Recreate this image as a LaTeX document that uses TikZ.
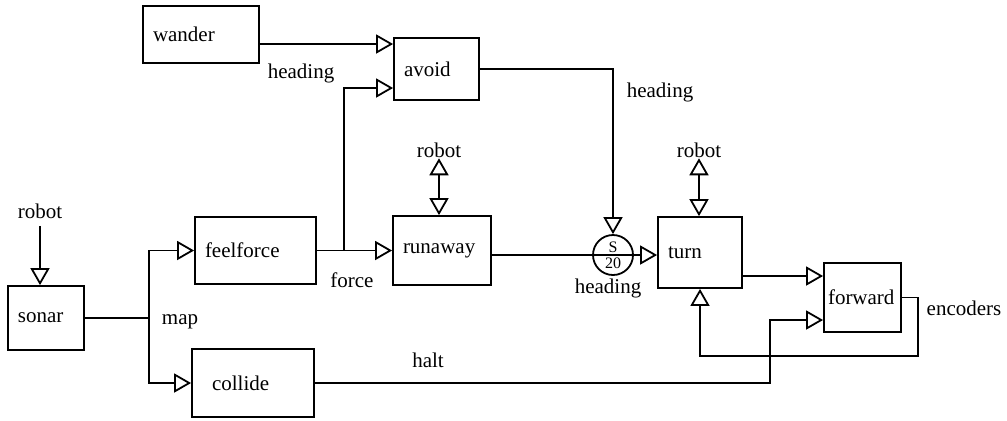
\documentclass[tikz,border=0pt]{standalone}
\usepackage{fontspec}
\setmainfont{Liberation Serif}
\usetikzlibrary{arrows.meta}

\begin{document}
\begin{tikzpicture}[
  x=0.5pt, y=-0.5pt,
  font=\fontsize{10.5}{12}\selectfont,
  line width=0.9pt,
  arr/.style={-{Triangle[open,length=8.5pt,width=9.5pt]}},
  arrboth/.style={{Triangle[open,length=8.5pt,width=9.5pt]}-{Triangle[open,length=8.5pt,width=9.5pt]}},
  box/.style={draw, align=left, inner xsep=5pt, inner ysep=0pt},
  robotlbl/.style={inner sep=0pt}
]
  \useasboundingbox (0,0) rectangle (1007,420);

  % behaviours
  \node[box, text width=48pt, minimum height=28.5pt] (wander) at (201,34.5) {wander};
  \node[box, text width=32.5pt, minimum height=31pt] (avoid) at (436.5,69) {avoid};
  \node[box, text width=50.5pt, minimum height=33.5pt] (feelforce) at (255.5,250.5) {feelforce};
  \node[box, text width=39pt, minimum height=34.5pt] (runaway) at (442,250.5) {runaway};
  \node[box, text width=32pt, minimum height=35.5pt] (turn) at (700,252.5) {turn};
  \node[box, inner xsep=2pt, text width=34.5pt, minimum height=34.5pt] (forward) at (862.5,297.5) {forward};
  \node[box, text width=28pt, minimum height=32pt] (sonar) at (46,318) {sonar};
  \node[box, inner xsep=10pt, text width=41pt, minimum height=34pt] (collide) at (253,383) {collide};

  % suppressor
  \node[draw, circle, minimum size=20pt, inner sep=0pt, align=center,
        font=\fontsize{8}{8}\selectfont] (sup) at (613,255) {S\\20};

  % labels
  \node (robotS) at (40,211) {robot};
  \node[robotlbl] (robotR) at (439,150) {robot};
  \node[robotlbl] (robotT) at (699,150) {robot};
  \node (hdgW) at (301,73) {heading};
  \node (hdgA) at (660,92) {heading};
  \node (hdgS) at (608,288) {heading};
  \node (force) at (352,280) {force};
  \node (map) at (180,322) {map};
  \node (halt) at (428,360) {halt};
  \node (enc) at (964,308) {encoders};

  % ports and bends
  \coordinate (avoidA) at (avoid.west |- 0,44);
  \coordinate (avoidB) at (avoid.west |- 0,88);
  \coordinate (ffj) at (344,250.5);
  \coordinate (sj) at (149,318);
  \coordinate (fwdA) at (forward.west |- 0,276);
  \coordinate (fwdB) at (forward.west |- 0,320);
  \coordinate (hj) at (770,320);
  \coordinate (encA) at (918,297.5);
  \coordinate (encB) at (918,356);

  \draw[arr] (wander.east |- avoidA) -- (avoidA);
  \draw[arr] (feelforce.east) -- (runaway.west);
  \draw[arr] (ffj) |- (avoidB);
  \draw (runaway.east |- sup) -- (sup.east);
  \draw[arr] (sup.east) -- (turn.west |- sup);
  \draw[arr] (avoid.east) -| (sup.north);
  \draw[arrboth] (robotR.south) -- (robotR.south |- runaway.north);
  \draw[arrboth] (robotT.south) -- (robotT.south |- turn.north);
  \draw[arr] (robotS.south) -- (robotS.south |- sonar.north);
  \draw (sonar.east) -- (sj);
  \draw[arr] (sj) |- (feelforce.west);
  \draw[arr] (sj) |- (collide.west);
  \draw[arr] (turn.east |- fwdA) -- (fwdA);
  \draw[arr] (collide.east) -| (hj) -- (fwdB);
  \draw[arr] (forward.east) -- (encA) -- (encB) -| (turn.south);
\end{tikzpicture}
\end{document}
